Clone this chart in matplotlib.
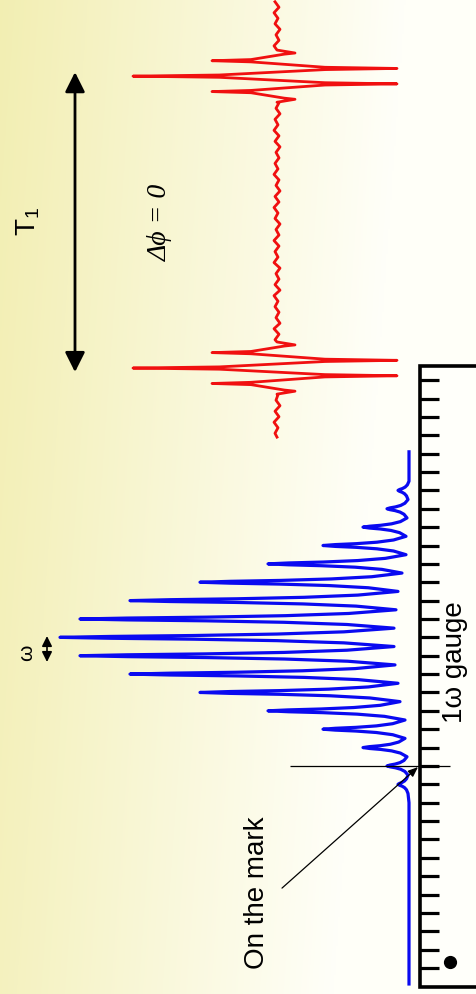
import numpy as np
import matplotlib.pyplot as plt
from matplotlib.patches import Rectangle

plt.rcParams['font.family'] = ['Liberation Sans', 'DejaVu Sans']
plt.rcParams['mathtext.fontset'] = 'custom'
plt.rcParams['mathtext.rm'] = 'Liberation Sans'

# time runs along the gauge, one tick = one period of omega
gauge_ticks = list(range(33))

# 1-omega pulse train: peak heights on each tick and the dips between them
blue_peak_t = [26, 25, 24, 23, 22, 21, 20, 19, 18, 17, 16, 15, 14, 13, 12, 11, 10]
blue_peak_amp = [11, 22, 46, 86, 141, 209, 279, 329, 349, 329, 279, 209, 141, 86, 46, 22, 11]
blue_dip_amp = [1, 2, 3, 3, 7, 11, 13, 15, 15, 14, 11, 9, 4, 4, 2, 1]
blue_start_t, blue_end_t = 28.1, -0.87

# two red bursts separated by T1
red_burst_t = [48.55, 32.66]
red_burst_offsets = [1.26, 0.84, 0.42, 0.0, -0.42, -0.84, -1.26]
red_burst_amp = [-18, 65, -120, 144, -120, 65, -18]
red_start_t, red_end_t = 52.6, 28.9
red_base = 132
red_ripple = [2, -2, 3, -1, 2, -3, 1, -2, 3, -2, 1, -3, 2, -1, 3, -2,
              2, -3, 1, -2, 2, -1, 3, -2, 1, -3, 2, -2, 3, -1, 2, -3,
              1, -2, 3, -2, 2, -1, 3, -3, 1, -2, 2, -3, 3, -1, 2, -2,
              1, -3, 3, -2, 2, -1, 1, -3, 2, -2, 3, -1, 2, -3, 1, -2,
              3, -2, 2, -1]

mark_t = 11
T1_span = (48.77, 32.44)

# shape of one spike: (offset from peak centre, fraction of the height)
spike_shape = [(0.3, 0.15), (0.18, 0.35), (0.1, 0.6), (0.05, 0.85), (0.0, 1.0)]

fig = plt.figure(figsize=(4.76, 9.95), dpi=100)
ax = fig.add_axes([0, 0, 1, 1])
ax.axis('off')

# pale yellow to white background
gx = np.linspace(0, 1, 240)
gy = np.linspace(0, 1, 240)
GX, GY = np.meshgrid(gx, gy)
w = np.clip((GX + 0.15 * GY) / 0.85, 0, 1)
yellow = np.array([0.95, 0.935, 0.70])
white = np.array([1.0, 1.0, 0.975])
bg = yellow[None, None, :] * (1 - w[..., None]) + white[None, None, :] * w[..., None]
ax.imshow(bg, extent=(409, -67, -1.415, 52.75), aspect='auto', zorder=0, origin='upper')
ax.set_xlim(409, -67)
ax.set_ylim(-1.415, 52.75)

# blue trace
bt = [blue_start_t, blue_peak_t[0] + 0.5]
ba = [0, 0]
dips = [0] + blue_dip_amp + [1]
for i, (t, a) in enumerate(zip(blue_peak_t, blue_peak_amp)):
    d0, d1 = dips[i], dips[i + 1]
    for off, frac in spike_shape:
        bt.append(t + off)
        ba.append(d0 + frac * (a - d0))
    for off, frac in reversed(spike_shape[:-1]):
        bt.append(t - off)
        ba.append(d1 + frac * (a - d1))
    bt.append(t - 0.5)
    ba.append(d1)
bt += [blue_peak_t[-1] - 1.0, blue_end_t]
ba += [0, 0]
ax.plot(ba, bt, color='#0a0af0', lw=2.3, solid_joinstyle='round', zorder=3)

# red trace with its small ripple on the baseline
def ripple_segment(t0, t1, k):
    ts = np.arange(t0, t1, -0.3)
    vals = np.array(red_ripple[k:k + len(ts)])
    return list(ts), list(red_base + vals), k + len(ts)

def burst_points(tc):
    ts = [tc + 1.42]
    vs = [red_base]
    ext_t = [tc + off for off in red_burst_offsets]
    for i, (t, amp) in enumerate(zip(ext_t, red_burst_amp)):
        ts.append(t)
        vs.append(red_base + amp)
        if i < len(ext_t) - 1:
            dt = ext_t[i + 1] - t
            nxt = red_burst_amp[i + 1]
            ts += [t + 0.15 * dt, t + 0.85 * dt]
            vs += [red_base + 0.4 * amp, red_base + 0.4 * nxt]
    ts.append(tc - 1.42)
    vs.append(red_base)
    return ts, vs

rt, ra = [], []
k = 0
seg_edges = [red_start_t, red_burst_t[0] + 1.45, red_burst_t[0] - 1.45,
             red_burst_t[1] + 1.45, red_burst_t[1] - 1.45, red_end_t]
for j in range(3):
    ts, vs, k = ripple_segment(seg_edges[2 * j], seg_edges[2 * j + 1], k)
    rt += ts
    ra += vs
    if j < 2:
        ts, vs = burst_points(red_burst_t[j])
        rt += ts
        ra += vs
rt.append(red_end_t)
ra.append(red_base)
ax.plot(ra, rt, color='#f01010', lw=2.0, solid_joinstyle='round', zorder=3)

# gauge
ax.add_patch(Rectangle((-80, -1.03), 69, 33.8, facecolor='#fffffa',
                       edgecolor='none', zorder=1))
ax.plot([-80, -11, -11, -80], [32.77, 32.77, -1.03, -1.03], color='black',
        lw=2.6, solid_joinstyle='miter', zorder=4)
ax.hlines(gauge_ticks, -11, -30, color='black', lw=2.3, zorder=4)
ax.plot([-41], [0.33], 'o', color='black', ms=8.5, zorder=4)
ax.text(-46, 16.7, '1ω gauge', rotation=90, fontsize=20,
        ha='center', va='center', zorder=5)

# mark line and label
ax.hlines(mark_t, 119, -41, color='black', lw=0.9, zorder=4)
ax.annotate('', xy=(-9, 10.94), xytext=(127, 4.35),
            arrowprops=dict(arrowstyle='-|>,head_length=0.5,head_width=0.2',
                            mutation_scale=12, lw=0.9, color='black',
                            shrinkA=0, shrinkB=0), zorder=5)
ax.text(152, 4.14, 'On the mark', rotation=90, fontsize=20,
        ha='center', va='center', zorder=5)

# T1 arrow
ax.annotate('', xy=(334, T1_span[0]), xytext=(334, T1_span[1]),
            arrowprops=dict(arrowstyle='<|-|>,head_length=0.6,head_width=0.3',
                            mutation_scale=20, lw=2, color='black',
                            shrinkA=0, shrinkB=0), zorder=5)
ax.text(381, 40.67, r'$\mathregular{T_1}$', rotation=90, fontsize=20,
        ha='center', va='center', zorder=5)
ax.text(249, 40.67, 'Δϕ = 0', rotation=90, fontsize=20, style='italic',
        family=['Liberation Serif', 'DejaVu Serif'],
        ha='center', va='center', zorder=5)

# omega period marker
ax.annotate('', xy=(362, 18.07), xytext=(362, 16.66),
            arrowprops=dict(arrowstyle='<|-|>,head_length=0.6,head_width=0.3',
                            mutation_scale=10, lw=1.2, color='black',
                            shrinkA=0, shrinkB=0), zorder=5)
ax.text(382, 17.2, 'ω', rotation=90, fontsize=15,
        ha='center', va='center', zorder=5)

fig.savefig('out.png', dpi=100)
